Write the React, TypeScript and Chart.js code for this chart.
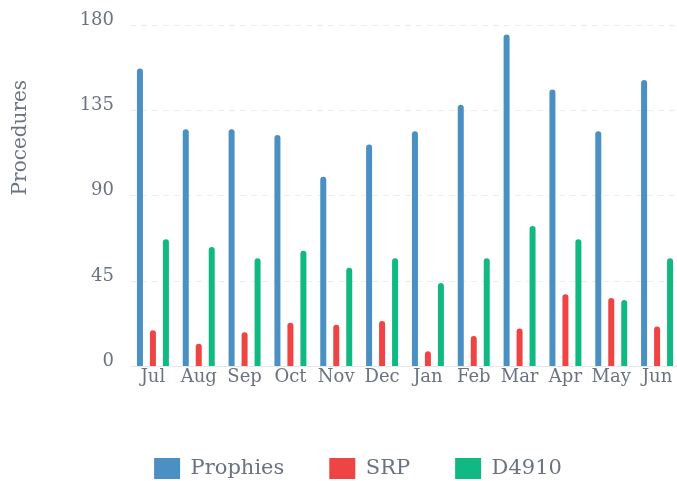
import React, { useEffect, useRef } from "react";
import { Chart, registerables } from "chart.js";

Chart.register(...registerables);

const categories = ["Jul", "Aug", "Sep", "Oct", "Nov", "Dec", "Jan", "Feb", "Mar", "Apr", "May", "Jun"];
const prophies = [157, 125, 125, 122, 100, 117, 124, 138, 175, 146, 124, 151];
const srp = [19, 12, 18, 23, 22, 24, 8, 16, 20, 38, 36, 21];
const d4910 = [67, 63, 57, 61, 52, 57, 44, 57, 74, 67, 35, 57];
const yTicks = [0, 45, 90, 135, 180];
const yTitle = "Procedures";

const FONT = "'DejaVu Serif', serif";
const TEXT = "#6b7280";

// Draws the rotated y-axis title, placed in the upper part of the axis as in the reference.
const yTitlePlugin = {
  id: "yTitleUpper",
  afterDraw(chart: any) {
    const { ctx, chartArea } = chart;
    const yScale = chart.scales.y;
    ctx.save();
    ctx.font = `20px ${FONT}`;
    ctx.fillStyle = TEXT;
    ctx.textAlign = "center";
    ctx.textBaseline = "middle";
    const cx = yScale.left + 13;
    const cy = chartArea.top + (chartArea.bottom - chartArea.top) * 0.33;
    ctx.translate(cx, cy);
    ctx.rotate(-Math.PI / 2);
    ctx.fillText(yTitle, 0, 0);
    ctx.restore();
  },
};

export default function App() {
  const ref = useRef<HTMLCanvasElement | null>(null);

  useEffect(() => {
    if (!ref.current) return;
    const mk = (label: string, data: number[], color: string) => ({
      label,
      data,
      yAxisID: "y",
      backgroundColor: color,
      borderColor: color,
      borderWidth: 0,
      borderRadius: 3,
      borderSkipped: "start" as const,
      maxBarThickness: 6,
      barPercentage: 0.9,
      categoryPercentage: 0.85,
    });
    const chart = new Chart(ref.current, {
      type: "bar",
      data: {
        labels: categories,
        datasets: [
          mk("Prophies", prophies, "#4a90c2"),
          mk("SRP", srp, "#ef4444"),
          mk("D4910", d4910, "#10b981"),
        ],
      },
      plugins: [yTitlePlugin],
      options: {
        animation: false,
        responsive: true,
        maintainAspectRatio: false,
        layout: { padding: { top: 17, left: 0, right: 0, bottom: 0 } },
        plugins: {
          tooltip: { enabled: false },
          legend: {
            position: "bottom",
            labels: {
              color: TEXT,
              boxWidth: 26,
              padding: 45,
              font: { family: FONT, size: 21 },
            },
          },
        },
        scales: {
          x: {
            grid: { display: false, drawTicks: false },
            border: { display: true, color: "#e5e7eb", width: 1 },
            ticks: {
              color: TEXT,
              padding: 0,
              maxRotation: 0,
              minRotation: 0,
              autoSkip: false,
              font: { family: FONT, size: 18 },
            },
            afterFit: (scale: any) => {
              scale.height = scale.height + 25;
            },
          },
          y: {
            min: 0,
            max: 180,
            afterBuildTicks: (scale: any) => {
              scale.ticks = yTicks.map((v) => ({ value: v }));
            },
            afterFit: (scale: any) => {
              scale.width = 122;
            },
            grid: {
              color: "#eeeeee",
              drawTicks: true,
              tickLength: 16,
              tickColor: "rgba(0,0,0,0)",
            },
            border: { display: false, dash: [6, 5] },
            ticks: {
              color: TEXT,
              padding: 0,
              labelOffset: -5,
              font: { family: FONT, size: 18 },
            },
          },
          y2: {
            type: "linear",
            position: "right",
            display: true,
            grid: { display: false, drawTicks: false },
            border: { display: false },
            ticks: { display: false },
            afterFit: (scale: any) => {
              scale.width = 28;
            },
          },
        },
      },
    });
    return () => chart.destroy();
  }, []);

  return (
    <div
      style={{
        position: "fixed",
        left: 8,
        top: 8,
        width: 669,
        height: 473,
        overflow: "hidden",
      }}
    >
      <div style={{ width: 700, height: 481, position: "relative" }}>
        <canvas ref={ref} />
      </div>
    </div>
  );
}
